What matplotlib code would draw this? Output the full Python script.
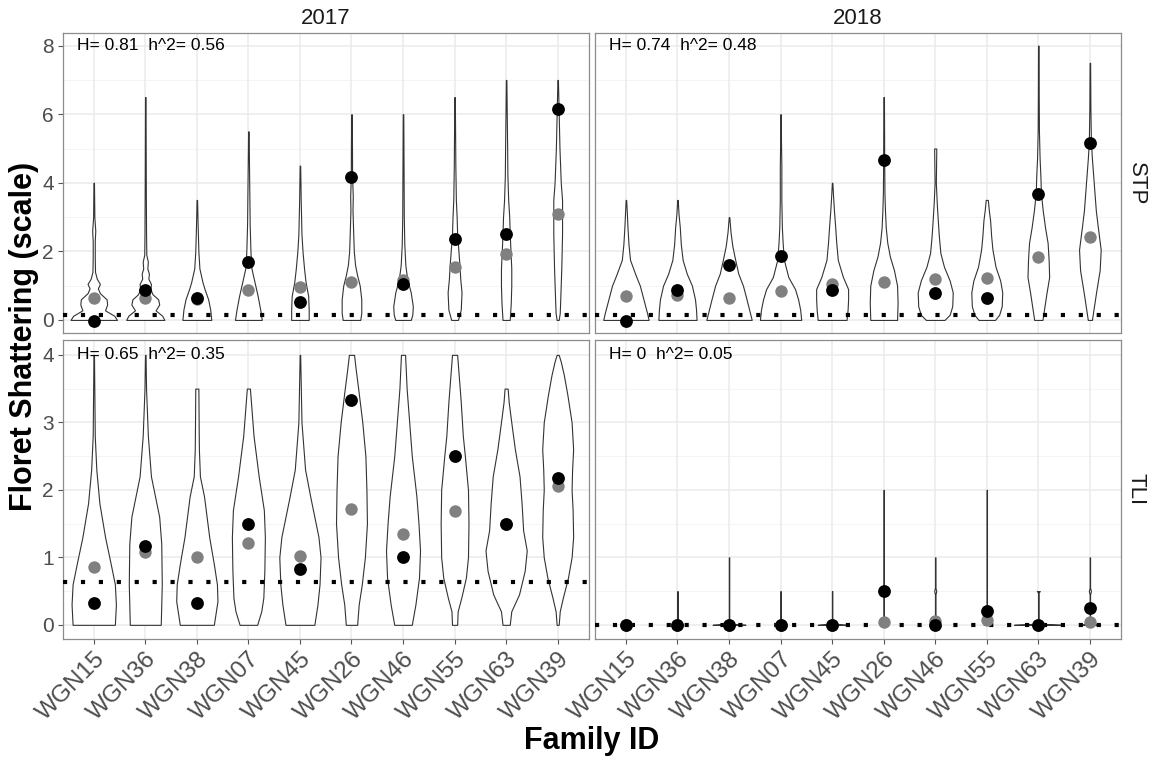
import numpy as np
import matplotlib.pyplot as plt

plt.rcParams['font.family'] = ['Liberation Sans', 'DejaVu Sans']

families = ['WGN15', 'WGN36', 'WGN38', 'WGN07', 'WGN45',
            'WGN26', 'WGN46', 'WGN55', 'WGN63', 'WGN39']

# Violin outlines: score levels and half-widths (x units) per family
stp17_lev = [
    [0, 0.12, 0.28, 0.45, 0.6, 0.78, 0.92, 1.05, 1.2, 1.4, 1.8, 2.3, 2.6, 3.0, 4.0],
    [0, 0.12, 0.28, 0.45, 0.6, 0.75, 0.9, 1.05, 1.2, 1.35, 1.5, 1.7, 1.9, 2.5, 4.0, 6.5],
    [0, 0.3, 0.6, 0.9, 1.1, 1.5, 2.0, 2.8, 3.5],
    [0, 0.3, 0.7, 1.1, 1.5, 2.0, 2.8, 3.5, 4.5, 5.5],
    [0, 0.3, 0.7, 1.1, 1.5, 2.0, 2.5, 3.5, 4.5],
    [0, 0.2, 0.6, 1.0, 1.3, 1.6, 2.0, 2.7, 3.2, 3.6, 4.2, 5.0, 6.0],
    [0, 0.15, 0.4, 0.8, 1.2, 1.6, 2.2, 3.0, 4.5, 6.0],
    [0, 0.3, 0.8, 1.2, 1.6, 2.0, 2.5, 3.0, 3.5, 4.5, 5.5, 6.5],
    [0, 0.5, 1.0, 1.5, 2.0, 2.5, 3.0, 3.5, 4.2, 5.0, 6.0, 7.0],
    [0, 0.2, 0.6, 1.5, 2.5, 3.5, 4.0, 5.0, 6.0, 7.0],
]
stp17_half = [
    [0.45, 0.4, 0.22, 0.26, 0.25, 0.12, 0.08, 0.12, 0.06, 0.025, 0.02, 0.02, 0.03, 0.012, 0.005],
    [0.37, 0.33, 0.2, 0.27, 0.25, 0.14, 0.1, 0.11, 0.06, 0.07, 0.04, 0.05, 0.02, 0.015, 0.01, 0.005],
    [0.28, 0.26, 0.22, 0.15, 0.11, 0.05, 0.03, 0.015, 0.005],
    [0.26, 0.23, 0.18, 0.12, 0.06, 0.04, 0.025, 0.02, 0.012, 0.005],
    [0.17, 0.17, 0.16, 0.11, 0.08, 0.05, 0.03, 0.015, 0.005],
    [0.17, 0.19, 0.19, 0.16, 0.11, 0.07, 0.045, 0.03, 0.02, 0.025, 0.012, 0.01, 0.005],
    [0.15, 0.18, 0.19, 0.15, 0.08, 0.045, 0.025, 0.015, 0.01, 0.005],
    [0.065, 0.12, 0.135, 0.11, 0.095, 0.075, 0.05, 0.04, 0.025, 0.015, 0.01, 0.005],
    [0.07, 0.09, 0.1, 0.1, 0.085, 0.07, 0.06, 0.04, 0.025, 0.02, 0.012, 0.005],
    [0.02, 0.04, 0.05, 0.07, 0.085, 0.085, 0.06, 0.035, 0.02, 0.005],
]

stp18_lev = [
    [0, 0.2, 0.6, 1.0, 1.3, 1.75, 2.2, 2.7, 3.2, 3.5],
    [0, 0.3, 0.6, 1.0, 1.35, 1.75, 2.2, 2.7, 3.1, 3.5],
    [0, 0.3, 0.6, 1.0, 1.35, 1.75, 2.15, 2.55, 3.0],
    [0, 0.3, 0.6, 0.9, 1.25, 1.75, 2.25, 2.7, 3.5, 4.5, 5.2, 6.0],
    [0, 0.3, 0.6, 0.9, 1.25, 1.75, 2.25, 2.7, 3.2, 3.7, 4.0],
    [0, 0.5, 1.0, 1.45, 1.85, 2.25, 2.7, 3.2, 3.7, 4.7, 5.5, 6.5],
    [0, 0.15, 0.4, 0.8, 1.15, 1.55, 1.95, 2.45, 2.9, 3.4, 4.0, 4.9, 5.0],
    [0, 0.15, 0.4, 0.8, 1.15, 1.55, 2.05, 2.45, 2.9, 3.2, 3.5],
    [0, 0.4, 0.8, 1.25, 1.75, 2.25, 2.7, 3.2, 3.7, 4.2, 4.7, 5.5, 6.5, 8.0],
    [0, 0.3, 0.8, 1.45, 2.05, 2.7, 3.2, 3.7, 4.2, 4.7, 5.2, 6.2, 7.5],
]
stp18_half = [
    [0.44, 0.41, 0.34, 0.27, 0.19, 0.08, 0.05, 0.03, 0.015, 0.005],
    [0.37, 0.36, 0.34, 0.28, 0.18, 0.1, 0.065, 0.045, 0.02, 0.005],
    [0.44, 0.39, 0.34, 0.27, 0.18, 0.12, 0.065, 0.03, 0.005],
    [0.4, 0.38, 0.34, 0.28, 0.15, 0.065, 0.04, 0.025, 0.015, 0.015, 0.008, 0.005],
    [0.28, 0.3, 0.31, 0.31, 0.21, 0.11, 0.08, 0.06, 0.035, 0.015, 0.005],
    [0.26, 0.27, 0.26, 0.2, 0.12, 0.07, 0.04, 0.025, 0.015, 0.01, 0.008, 0.005],
    [0.18, 0.28, 0.33, 0.34, 0.28, 0.17, 0.1, 0.07, 0.05, 0.03, 0.012, 0.02, 0.02],
    [0.16, 0.24, 0.29, 0.3, 0.26, 0.17, 0.11, 0.085, 0.065, 0.04, 0.02],
    [0.08, 0.12, 0.16, 0.21, 0.2, 0.18, 0.13, 0.085, 0.05, 0.04, 0.025, 0.012, 0.008, 0.005],
    [0.04, 0.07, 0.12, 0.19, 0.21, 0.155, 0.115, 0.09, 0.065, 0.04, 0.02, 0.01, 0.005],
]

tli17_lev = [
    [0, 0.3, 0.6, 0.9, 1.3, 1.8, 2.3, 2.8, 4.0],
    [0, 0.6, 1.2, 1.6, 1.9, 2.2, 2.8, 3.5, 4.0],
    [0, 0.35, 0.6, 0.9, 1.3, 1.6, 1.9, 2.2, 2.6, 3.0, 3.5],
    [0, 0.2, 0.4, 0.8, 1.3, 1.7, 2.2, 2.8, 3.3, 3.5],
    [0, 0.3, 0.6, 1.0, 1.3, 1.6, 1.9, 2.3, 3.0, 4.0],
    [0, 0.3, 0.6, 1.0, 1.5, 2.0, 2.5, 3.0, 3.5, 3.8, 4.0],
    [0, 0.3, 0.7, 1.1, 1.5, 1.9, 2.5, 3.0, 3.5, 4.0],
    [0, 0.2, 0.4, 0.7, 1.0, 1.5, 2.0, 2.5, 2.8, 3.3, 3.7, 4.0],
    [0, 0.2, 0.45, 0.8, 1.1, 1.4, 1.8, 2.2, 2.6, 3.0, 3.3, 3.5],
    [0, 0.2, 0.4, 0.7, 1.0, 1.3, 1.7, 2.0, 2.3, 2.6, 3.0, 3.4, 3.7, 3.9, 4.0],
]
tli17_half = [
    [0.41, 0.43, 0.41, 0.33, 0.22, 0.11, 0.05, 0.02, 0.005],
    [0.3, 0.32, 0.31, 0.27, 0.19, 0.11, 0.05, 0.015, 0.005],
    [0.33, 0.4, 0.39, 0.33, 0.24, 0.19, 0.14, 0.06, 0.04, 0.035, 0.03],
    [0.17, 0.25, 0.29, 0.31, 0.32, 0.3, 0.2, 0.1, 0.05, 0.03],
    [0.28, 0.34, 0.38, 0.4, 0.36, 0.28, 0.2, 0.1, 0.03, 0.005],
    [0.11, 0.14, 0.2, 0.26, 0.3, 0.29, 0.27, 0.21, 0.13, 0.08, 0.05],
    [0.17, 0.24, 0.31, 0.33, 0.3, 0.26, 0.17, 0.12, 0.07, 0.04],
    [0.05, 0.06, 0.13, 0.22, 0.26, 0.27, 0.26, 0.2, 0.16, 0.12, 0.08, 0.05],
    [0.07, 0.1, 0.25, 0.36, 0.4, 0.33, 0.3, 0.26, 0.17, 0.1, 0.05, 0.03],
    [0.02, 0.04, 0.1, 0.2, 0.27, 0.3, 0.29, 0.27, 0.28, 0.3, 0.27, 0.19, 0.12, 0.06, 0.02],
]

tli18_lev = [
    [0],
    [0, 0.015, 0.04, 0.5],
    [0, 0.015, 0.04, 1.0],
    [0, 0.015, 0.04, 0.5],
    [0, 0.015, 0.04, 0.5],
    [0, 0.015, 0.04, 2.0],
    [0, 0.015, 0.04, 0.45, 0.5, 0.55, 1.0],
    [0, 0.015, 0.04, 2.0],
    [0, 0.015, 0.04, 0.48, 0.5],
    [0, 0.015, 0.04, 0.45, 0.5, 0.55, 1.0],
]
tli18_half = [
    [0],
    [0.1, 0.02, 0.004, 0.004],
    [0.32, 0.05, 0.004, 0.004],
    [0.12, 0.02, 0.004, 0.004],
    [0.28, 0.04, 0.004, 0.004],
    [0.06, 0.02, 0.004, 0.004],
    [0.08, 0.02, 0.004, 0.004, 0.02, 0.004, 0.004],
    [0.06, 0.02, 0.004, 0.004],
    [0.47, 0.05, 0.004, 0.004, 0.03],
    [0.2, 0.03, 0.004, 0.004, 0.02, 0.004, 0.004],
]

# family means (grey) and parent values (black)
stp17_grey = [0.63, 0.63, 0.62, 0.87, 0.97, 1.12, 1.17, 1.54, 1.91, 3.08]
stp17_black = [-0.02, 0.86, 0.63, 1.68, 0.53, 4.17, 1.04, 2.35, 2.52, 6.16]
stp18_grey = [0.69, 0.73, 0.65, 0.85, 1.05, 1.1, 1.18, 1.23, 1.84, 2.42]
stp18_black = [-0.02, 0.87, 1.61, 1.86, 0.86, 4.66, 0.78, 0.63, 3.67, 5.16]
tli17_grey = [0.86, 1.08, 1.0, 1.21, 1.02, 1.72, 1.34, 1.68, 1.5, 2.05]
tli17_black = [0.33, 1.17, 0.33, 1.5, 0.83, 3.33, 1.0, 2.5, 1.5, 2.17]
tli18_grey = [0, 0, 0, 0, 0, 0.04, 0.06, 0.07, 0, 0.04]
tli18_black = [0, 0, 0, 0, 0, 0.5, 0, 0.2, 0, 0.25]

check_line = {'stp17': 0.14, 'stp18': 0.14, 'tli17': 0.64, 'tli18': 0.0}
stats = {'stp17': 'H= 0.81  h^2= 0.56', 'stp18': 'H= 0.74  h^2= 0.48',
         'tli17': 'H= 0.65  h^2= 0.35', 'tli18': 'H= 0  h^2= 0.05'}

panels = [
    ('stp17', stp17_lev, stp17_half, stp17_grey, stp17_black, 0, 0),
    ('stp18', stp18_lev, stp18_half, stp18_grey, stp18_black, 0, 1),
    ('tli17', tli17_lev, tli17_half, tli17_grey, tli17_black, 1, 0),
    ('tli18', tli18_lev, tli18_half, tli18_grey, tli18_black, 1, 1),
]

W, H = 1158, 761
fig = plt.figure(figsize=(W / 100, H / 100), dpi=100)

col_x = [62.8, 595.0]
col_w = 525.8
row_top = [33.3, 340.0]
row_h = [300.0, 299.0]
row_lim = [(-0.39, 8.36), (-0.21, 4.22)]
row_major = [[0, 2, 4, 6, 8], [0, 1, 2, 3, 4]]
row_minor = [[1, 3, 5, 7], [0.5, 1.5, 2.5, 3.5]]

xpos = np.arange(1, len(families) + 1)

for key, lev, half, grey, black, r, c in panels:
    ax = fig.add_axes([col_x[c] / W, 1 - (row_top[r] + row_h[r]) / H,
                       col_w / W, row_h[r] / H])
    ax.set_xlim(0.4, 10.6)
    ax.set_ylim(*row_lim[r])
    ax.set_axisbelow(True)

    # grid
    for y in row_major[r]:
        ax.axhline(y, color='#EBEBEB', lw=1.1, zorder=0)
    for y in row_minor[r]:
        ax.axhline(y, color='#F4F4F4', lw=0.7, zorder=0)
    for x in xpos:
        ax.axvline(x, color='#EBEBEB', lw=1.1, zorder=0)

    # violins
    for i, (yy, ww) in enumerate(zip(lev, half)):
        if len(yy) < 2:
            continue
        yy = np.array(yy)
        ww = np.array(ww)
        ax.fill_betweenx(yy, xpos[i] - ww, xpos[i] + ww, facecolor='white',
                         edgecolor='#333333', lw=0.8, zorder=2)

    ax.axhline(check_line[key], color='black', lw=3.0,
               linestyle=(0, (1, 3.3)), dash_capstyle='butt', zorder=3)

    ax.scatter(xpos, grey, s=80, color='#808080', lw=0, zorder=4)
    ax.scatter(xpos, black, s=85, color='black', lw=0, zorder=5)

    ax.text(0.67, row_major[r][-1], stats[key], fontsize=12.5, ha='left',
            va='center', zorder=6)

    for s in ax.spines.values():
        s.set_color('#8C8C8C')
        s.set_linewidth(0.9)

    ax.set_xticks(xpos)
    ax.set_yticks(row_major[r])
    ax.tick_params(length=3.5, width=0.8, color='#555555',
                   labelcolor='#4D4D4D', labelsize=15, pad=3)
    if c == 1:
        ax.tick_params(axis='y', length=0, labelleft=False)
    if r == 0:
        ax.tick_params(axis='x', length=0, labelbottom=False)
    else:
        ax.set_xticklabels(families, rotation=45, ha='right', va='top',
                           rotation_mode='anchor', fontsize=17.5)

# strip labels
fig.text((col_x[0] + col_w / 2) / W, 1 - 18 / H, '2017', fontsize=16,
         color='#1A1A1A', ha='center', va='center')
fig.text((col_x[1] + col_w / 2) / W, 1 - 18 / H, '2018', fontsize=16,
         color='#1A1A1A', ha='center', va='center')
fig.text(1136 / W, 1 - (row_top[0] + row_h[0] / 2) / H, 'STP', fontsize=16,
         color='#1A1A1A', ha='center', va='center', rotation=-90)
fig.text(1136 / W, 1 - (row_top[1] + row_h[1] / 2) / H, 'TLI', fontsize=16,
         color='#1A1A1A', ha='center', va='center', rotation=-90)

# axis titles
fig.text((col_x[0] + col_x[1] + col_w) / 2 / W, 1 - 741 / H, 'Family ID',
         fontsize=22, fontweight='bold', ha='center', va='center')
fig.text(24 / W, 1 - 336 / H, 'Floret Shattering (scale)', fontsize=22,
         fontweight='bold', ha='center', va='center', rotation=90)

fig.savefig('out.png', dpi=100)
